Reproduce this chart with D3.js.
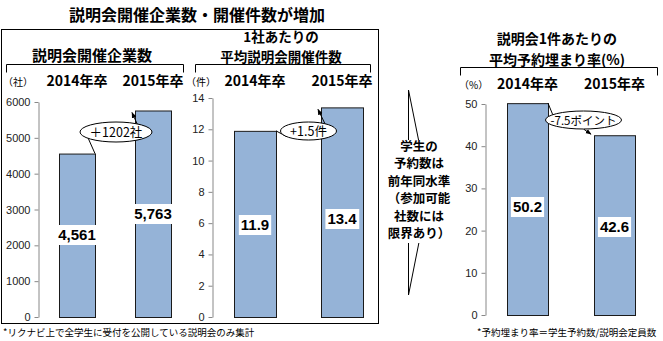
<!DOCTYPE html>
<html><head><meta charset="utf-8">
<script src="https://cdn.jsdelivr.net/npm/d3@7"></script>
<style>
body{margin:0;background:#fff;}
text{font-family:"Noto Sans CJK JP","Liberation Sans",sans-serif;}
</style></head>
<body><div id="chart"></div>
<script>
// ---- data ----
const years = ["2014年卒", "2015年卒"];
const companies = [4561, 5763];
const eventsPerCompany = [11.9, 13.4];
const fillRate = [50.2, 42.6];
const companyTicks = [0, 1000, 2000, 3000, 4000, 5000, 6000];
const eventTicks = [0, 2, 4, 6, 8, 10, 12, 14];
const rateTicks = [0, 10, 20, 30, 40, 50];
const companyLabels = ["4,561", "5,763"];
const eventLabels = ["11.9", "13.4"];
const rateLabels = ["50.2", "42.6"];
const diffLabels = ["＋1202社", "+1.5件", "-7.5ポイント"];
const mainTitle = "説明会開催企業数・開催件数が増加";
const middleText = ["学生の", "予約数は", "前年同水準", "（参加可能", "社数には", "限界あり）"];
const footLeft = "*リクナビ上で全学生に受付を公開している説明会のみ集計";
const footRight = "*予約埋まり率＝学生予約数/説明会定員数";

const W = 663, H = 341;
const svg = d3.select("#chart").append("svg").attr("width", W).attr("height", H);
const BAR = "#95B3D7";

// main title
svg.append("text").attr("x", 197).attr("y", 21).attr("text-anchor", "middle")
  .attr("font-size", 16).attr("font-weight", "bold").text(mainTitle);

// outer box of left two panels
svg.append("rect").attr("x", 1.5).attr("y", 29.5).attr("width", 377).attr("height", 294)
  .attr("fill", "none").attr("stroke", "#000").attr("stroke-width", 1);

const panels = [
  {title: ["説明会開催企業数"], titleX: 92, titleY: [61], tfs: 15, values: companies, labels: companyLabels,
   ticks: companyTicks, domain: [0, 6000], yr: [317, 102], axisX: 38, centers: [77, 153], bw: 36,
   unit: "（社）", unitX: 3, bracket: [6, 183, 64], labelY: [235, 214],
   diff: diffLabels[0], ell: [116, 132, 36, 10], fs: 12.5},
  {title: ["1社あたりの", "平均説明会開催件数"], titleX: 281, titleY: [42.3, 62], tfs: 13.5,
   values: eventsPerCompany, labels: eventLabels,
   ticks: eventTicks, domain: [0, 14], yr: [317, 98], axisX: 212, centers: [255, 342], bw: 42,
   unit: "（件）", unitX: 186, bracket: [195, 370, 64], labelY: [225, 219],
   diff: diffLabels[1], ell: [308.5, 131, 28, 9], fs: 12.5},
  {title: ["説明会1件あたりの", "平均予約埋まり率(%)"], titleX: 557, titleY: [44.3, 64.7], tfs: 14,
   values: fillRate, labels: rateLabels,
   ticks: rateTicks, domain: [0, 50], yr: [315, 104], axisX: 485, centers: [527.5, 614.5], bw: 41,
   unit: "（%）", unitX: 459, bracket: [460, 657, 67], labelY: [207, 227],
   diff: diffLabels[2], ell: [583.5, 120, 38, 9], fs: 11.5}
];

svg.append("defs").append("marker").attr("id", "arr").attr("viewBox", "0 0 10 10")
  .attr("refX", 9).attr("refY", 5).attr("markerWidth", 6).attr("markerHeight", 6)
  .attr("orient", "auto").append("path").attr("d", "M0,1L10,5L0,9Z").attr("fill", "#000");

panels.forEach((p, pi) => {
  const g = svg.append("g");
  p.title.forEach((t, i) => g.append("text").attr("x", p.titleX).attr("y", p.titleY[i])
    .attr("text-anchor", "middle").attr("font-size", p.tfs).attr("font-weight", "bold").text(t));
  const [bx0, bx1, by] = p.bracket;
  g.append("path").attr("d", `M${bx0},${by + 8}V${by}H${bx1}V${by + 8}`)
    .attr("fill", "none").attr("stroke", "#000").attr("stroke-width", 1)
    .attr("transform", "translate(0.5,0.5)");
  g.append("text").attr("x", p.unitX).attr("y", by + 22).attr("font-size", 10).text(p.unit);

  const x = d3.scalePoint().domain(years).range(p.centers);
  const y = d3.scaleLinear().domain(p.domain).range(p.yr);

  years.forEach(yy => g.append("text").attr("x", x(yy)).attr("y", by + 22)
    .attr("text-anchor", "middle").attr("font-size", 14).attr("font-weight", "bold").text(yy));

  const ax = g.append("g").attr("transform", `translate(${p.axisX + 0.5},0)`)
    .call(d3.axisLeft(y).tickValues(p.ticks).tickSizeOuter(0).tickSizeInner(4).tickPadding(4)
      .tickFormat(d3.format("d")));
  ax.select(".domain").attr("stroke", "#888");
  ax.selectAll(".tick line").attr("stroke", "#888");
  ax.selectAll(".tick text").attr("font-size", 11).attr("fill", "#222")
    .style("font-family", "'Liberation Sans',Arial,sans-serif");

  g.selectAll("rect.bar").data(p.values).enter().append("rect")
    .attr("x", (d, i) => Math.round(x(years[i]) - p.bw / 2) + 0.5)
    .attr("y", d => y(d) + 0.5)
    .attr("width", p.bw)
    .attr("height", d => y(0) - y(d))
    .attr("fill", BAR).attr("stroke", "#1a1a1a").attr("stroke-width", 1);

  p.labels.forEach((lab, i) => {
    const t = g.append("text").attr("x", x(years[i])).attr("y", p.labelY[i] + 5)
      .attr("text-anchor", "middle").attr("font-size", 15).attr("font-weight", "bold")
      .style("font-family", "'Liberation Sans',Arial,sans-serif").text(lab);
    const bb = t.node().getBBox();
    g.insert("rect", () => t.node()).attr("x", bb.x - 2).attr("y", p.labelY[i] - 10)
      .attr("width", bb.width + 4).attr("height", 20).attr("fill", "#fff");
  });

  const [ex, ey, rx, ry] = p.ell;
  const b1r = Math.round(x(years[0]) + p.bw / 2), b2l = Math.round(x(years[1]) - p.bw / 2);
  const y1 = y(p.values[0]), y2 = y(p.values[1]);
  const up = p.values[1] > p.values[0];
  const a0 = up ? Math.PI * 0.78 : Math.PI * 1.2;
  const cx0 = ex + rx * Math.cos(a0), cy0 = ey + ry * Math.sin(a0);
  g.append("line").attr("x1", b1r).attr("y1", y1).attr("x2", cx0).attr("y2", cy0)
    .attr("stroke", "#000").attr("stroke-width", 1);
  const a1 = up ? -Math.PI * 0.3 : Math.PI * 0.5;
  const ax1 = ex + rx * Math.cos(a1), ay1 = ey + ry * Math.sin(a1);
  g.append("line").attr("x1", ax1).attr("y1", ay1)
    .attr("x2", b2l - 3).attr("y2", y2 + (up ? 2 : -1))
    .attr("stroke", "#000").attr("stroke-width", 1).attr("marker-end", "url(#arr)");
  g.append("ellipse").attr("cx", ex).attr("cy", ey).attr("rx", rx).attr("ry", ry)
    .attr("fill", "#fff").attr("stroke", "#000").attr("stroke-width", 1);
  g.append("text").attr("x", ex).attr("y", ey + 4.5).attr("text-anchor", "middle")
    .attr("font-size", p.fs).text(p.diff);
});

// middle arrow shape
svg.append("path").attr("d", "M408.5,90L429,192L408.5,295Z")
  .attr("fill", "none").attr("stroke", "#000").attr("stroke-width", 1);
svg.append("rect").attr("x", 384).attr("y", 140).attr("width", 72).attr("height", 103).attr("fill", "#fff");
middleText.forEach((t, i) => svg.append("text").attr("x", 419).attr("y", 150.5 + i * 17.5)
  .attr("text-anchor", "middle").attr("font-size", 12.5).attr("font-weight", "bold").text(t));

// footnotes
svg.append("text").attr("x", 3).attr("y", 336).attr("font-size", 9.5).text(footLeft);
svg.append("text").attr("x", 477).attr("y", 336).attr("font-size", 9.5).text(footRight);
</script></body></html>
